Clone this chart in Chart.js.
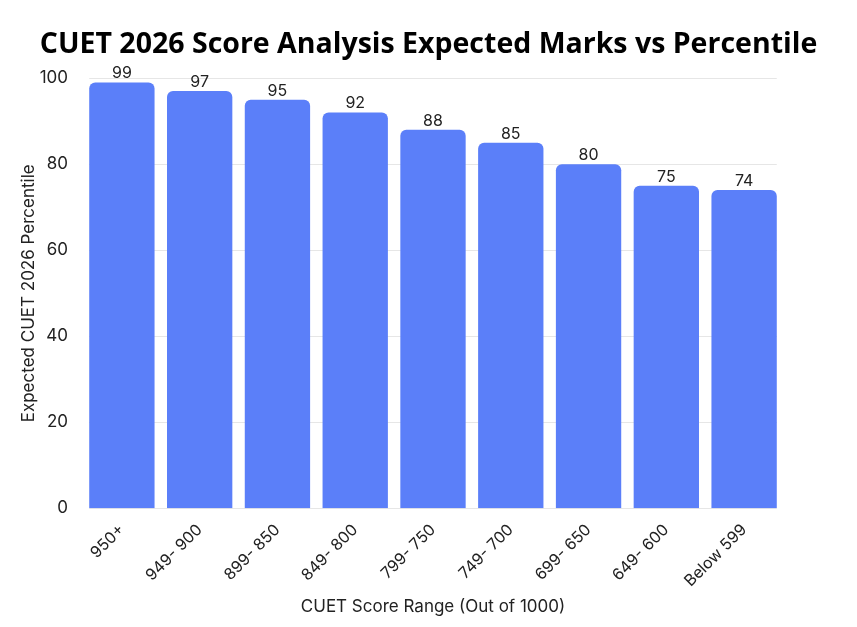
<!DOCTYPE html>
<html>
<head>
<meta charset="utf-8">
<script src="https://cdn.jsdelivr.net/npm/chart.js@4"></script>
<style>
  html, body { margin: 0; padding: 0; background: #fff; }
  #wrap { width: 857px; height: 627px; position: relative; }
</style>
</head>
<body>
<div id="wrap"><canvas id="barChart"></canvas></div>
<script>
var categorias = ["950+", "949- 900", "899- 850", "849- 800", "799- 750", "749- 700", "699- 650", "649- 600", "Below 599"]
var percentis = [99, 97, 95, 92, 88, 85, 80, 75, 74]
var ticksY = [0, 20, 40, 60, 80, 100]

// linhas de grade so entre a primeira e a ultima barra
var grade = {
    id: 'grade',
    beforeDatasetsDraw: function (chart) {
        var ctx = chart.ctx
        var barras = chart.getDatasetMeta(0).data
        var ini = barras[0].x - barras[0].width / 2
        var fim = barras[barras.length - 1].x + barras[barras.length - 1].width / 2
        var escala = chart.scales.y
        ctx.save()
        ctx.strokeStyle = '#e6e6e6'
        ctx.lineWidth = 1
        ticksY.forEach(function (v) {
            var py = Math.round(escala.getPixelForValue(v)) + 0.5
            ctx.beginPath()
            ctx.moveTo(ini, py)
            ctx.lineTo(fim, py)
            ctx.stroke()
        })
        ctx.restore()
    }
}

// desenha os valores por cima das barras
var rotulosBarras = {
    id: 'rotulosBarras',
    afterDatasetsDraw: function (chart) {
        var ctx = chart.ctx
        var meta = chart.getDatasetMeta(0)
        ctx.save()
        ctx.font = '16px Inter, "Open Sans", sans-serif'
        ctx.fillStyle = '#222'
        ctx.textAlign = 'center'
        ctx.textBaseline = 'bottom'
        meta.data.forEach(function (bar, i) {
            ctx.fillText(percentis[i], bar.x, bar.y - 1)
        })
        ctx.restore()
    }
}

var fonte = { family: 'Inter, sans-serif', size: 17 }

var ctxB = document.getElementById("barChart").getContext('2d')
var grafico = new Chart(ctxB, {
    type: 'bar',
    data: {
        labels: categorias,
        datasets: [{
            data: percentis,
            backgroundColor: '#5b7ff9',
            borderRadius: { topLeft: 6, topRight: 6 },
            borderSkipped: 'bottom',
            categoryPercentage: 1,
            barPercentage: 0.84
        }]
    },
    options: {
        responsive: true,
        maintainAspectRatio: false,
        animation: false,
        layout: { autoPadding: false, padding: { left: 0, right: 0, top: 4, bottom: 6 } },
        plugins: {
            legend: { display: false },
            tooltip: { enabled: false },
            title: {
                display: true,
                text: 'CUET 2026 Score Analysis Expected Marks vs Percentile',
                color: '#000',
                font: { family: '"Open Sans", sans-serif', size: 28.5, weight: 'bold' },
                padding: { top: 24, bottom: 16 }
            }
        },
        scales: {
            x: {
                grid: { display: false },
                border: { display: false },
                ticks: {
                    color: '#222',
                    font: { family: 'Inter, sans-serif', size: 16 },
                    maxRotation: 45,
                    minRotation: 45,
                    padding: 4
                },
                title: {
                    display: true,
                    text: 'CUET Score Range (Out of 1000)',
                    color: '#222',
                    font: fonte,
                    padding: { top: 2 }
                }
            },
            y: {
                min: 0,
                max: 100,
                afterBuildTicks: function (axis) {
                    axis.ticks = ticksY.map(function (v) { return { value: v } })
                },
                afterFit: function (axis) { axis.width = 83 },
                grid: { display: false },
                border: { display: false },
                ticks: {
                    color: '#222',
                    font: fonte,
                    padding: 7
                },
                title: {
                    display: true,
                    text: 'Expected CUET 2026 Percentile',
                    color: '#222',
                    font: fonte,
                    padding: { top: 19, bottom: 4 }
                }
            },
            // eixo vazio so para ocupar a margem direita
            yDir: {
                position: 'right',
                grid: { display: false },
                border: { display: false },
                ticks: { display: false },
                afterFit: function (axis) { axis.width = 74 }
            }
        }
    },
    plugins: [grade, rotulosBarras]
})
</script>
</body>
</html>
